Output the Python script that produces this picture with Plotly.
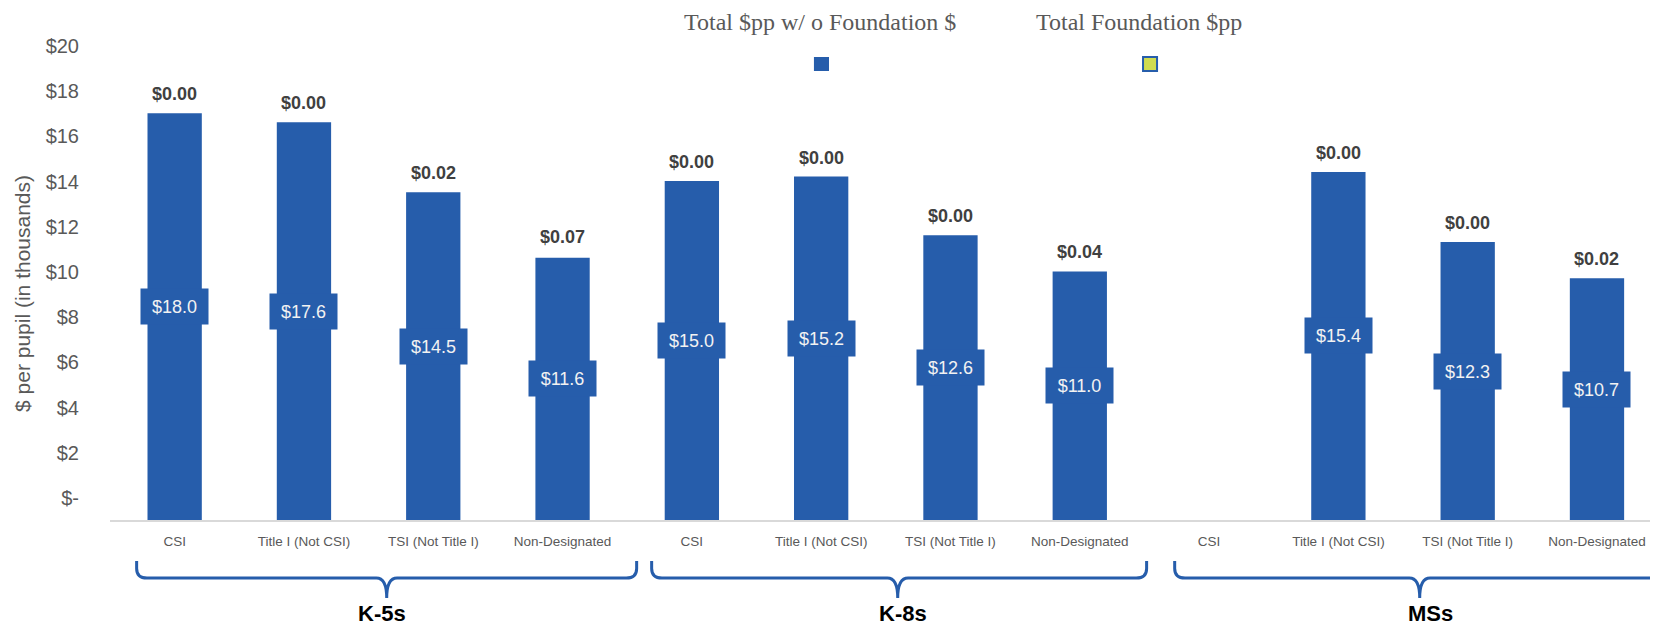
import plotly.graph_objects as go

# categories / groups
categories = ["CSI", "Title I (Not CSI)", "TSI (Not Title I)", "Non-Designated"] * 3
groups = ["K-5s", "K-8s", "MSs"]

# $ per pupil in thousands
total_wo_foundation = [18.0, 17.6, 14.5, 11.6, 15.0, 15.2, 12.6, 11.0, None, 15.4, 12.3, 10.7]
total_foundation = [0.00, 0.00, 0.02, 0.07, 0.00, 0.00, 0.00, 0.04, None, 0.00, 0.00, 0.02]

y_ticks = [0, 2, 4, 6, 8, 10, 12, 14, 16, 18, 20]
y_ticktext = ["$-", "$2", "$4", "$6", "$8", "$10", "$12", "$14", "$16", "$18", "$20"]

BLUE = "#265DAB"
GREEN = "#D0DC50"
GRAY = "#595959"

x = list(range(len(categories)))

fig = go.Figure()
fig.add_trace(go.Bar(
    x=x, y=total_wo_foundation, width=0.42,
    marker=dict(color=BLUE, line=dict(width=0)),
    name="Total $pp w/ o Foundation $", showlegend=False, hoverinfo="skip",
))

annotations = []
for i, (v, f) in enumerate(zip(total_wo_foundation, total_foundation)):
    if v is None:
        continue
    # value box in the middle of the bar
    annotations.append(dict(
        x=i, y=v / 2, xref="x", yref="y", text=f"${v:.1f}", showarrow=False,
        yshift=10, width=63, height=31, borderpad=2, bgcolor=BLUE,
        font=dict(family="Liberation Sans, Arial", size=18, color="#F2F2F2"),
    ))
    # foundation $ on top
    annotations.append(dict(
        x=i, y=v + f, xref="x", yref="y", text=f"<b>${f:.2f}</b>", showarrow=False,
        yanchor="bottom", yshift=7,
        font=dict(family="Liberation Sans, Arial", size=18, color="#404040"),
    ))

# legend (text above square)
annotations.append(dict(x=0.4610, y=1.0375, xref="paper", yref="paper", showarrow=False,
                        text="Total $pp w/ o Foundation $", xanchor="center", yanchor="middle",
                        font=dict(family="Liberation Serif, Times New Roman", size=24, color=GRAY)))
annotations.append(dict(x=0.6682, y=1.0375, xref="paper", yref="paper", showarrow=False,
                        text="Total Foundation $pp", xanchor="center", yanchor="middle",
                        font=dict(family="Liberation Serif, Times New Roman", size=24, color=GRAY)))

# y axis title
annotations.append(dict(x=-0.0565, y=0.473, xref="paper", yref="paper", showarrow=False,
                        text="$ per pupil (in thousands)", textangle=-90,
                        xanchor="center", yanchor="middle",
                        font=dict(family="Liberation Sans, Arial", size=21, color=GRAY)))

# group brackets and labels
bracket_spans = [(-0.294, 1.640, 3.573), (3.689, 5.592, 7.517), (7.734, 9.629, 11.52)]
label_x = [1.60, 5.63, 9.71]
y_top, y_h, y_tip = -0.0854, -0.1208, -0.1625
dx, dy = 0.08, 0.02
shapes = []
for (xl, xt, xr), g, lx in zip(bracket_spans, groups, label_x):
    path = (f"M {xl},{y_top} L {xl},{y_h + dy} Q {xl},{y_h} {xl + dx},{y_h} "
            f"L {xt - dx},{y_h} Q {xt},{y_h} {xt},{y_tip} "
            f"Q {xt},{y_h} {xt + dx},{y_h} L {xr - dx},{y_h} "
            f"Q {xr},{y_h} {xr},{y_h + dy} L {xr},{y_top}")
    shapes.append(dict(type="path", path=path, xref="x", yref="paper",
                       line=dict(color=BLUE, width=3)))
    annotations.append(dict(x=lx, y=-0.1958, xref="x", yref="paper", showarrow=False,
                            text=f"<b>{g}</b>", xanchor="center", yanchor="middle",
                            font=dict(family="Liberation Sans Narrow, Arial Narrow, Liberation Sans",
                                      size=22, color="black")))

# legend squares
shapes.append(dict(type="rect", xref="paper", yref="paper", x0=0.4571, x1=0.4669,
                   y0=0.9354, y1=0.9646, fillcolor=BLUE, line=dict(width=0)))
shapes.append(dict(type="rect", xref="paper", yref="paper", x0=0.6708, x1=0.6799,
                   y0=0.9354, y1=0.9646, fillcolor=GREEN, line=dict(color=BLUE, width=2)))

# page body has an 8px margin, so the figure is a bit smaller than the window
fig.update_layout(
    width=1642, height=624,
    margin=dict(l=102, r=0, t=32, b=112),
    plot_bgcolor="white", paper_bgcolor="white",
    annotations=annotations, shapes=shapes,
    showlegend=False,
    font=dict(family="Liberation Sans, Arial", color=GRAY),
)
fig.update_xaxes(
    range=[-0.5, 11.41], tickvals=x, ticktext=categories, showgrid=False,
    showline=True, linecolor="#D9D9D9", linewidth=2, ticks="", zeroline=False,
    ticklabelstandoff=8, tickfont=dict(size=13.5, color=GRAY), automargin=False,
)
fig.update_yaxes(
    range=[0, 21.24], tickvals=y_ticks, ticktext=y_ticktext, showgrid=False,
    zeroline=False, showline=False, ticks="", ticklabelshift=-22, ticklabelstandoff=30,
    tickfont=dict(size=20, color=GRAY), automargin=False,
)

fig.write_html("out.html")
